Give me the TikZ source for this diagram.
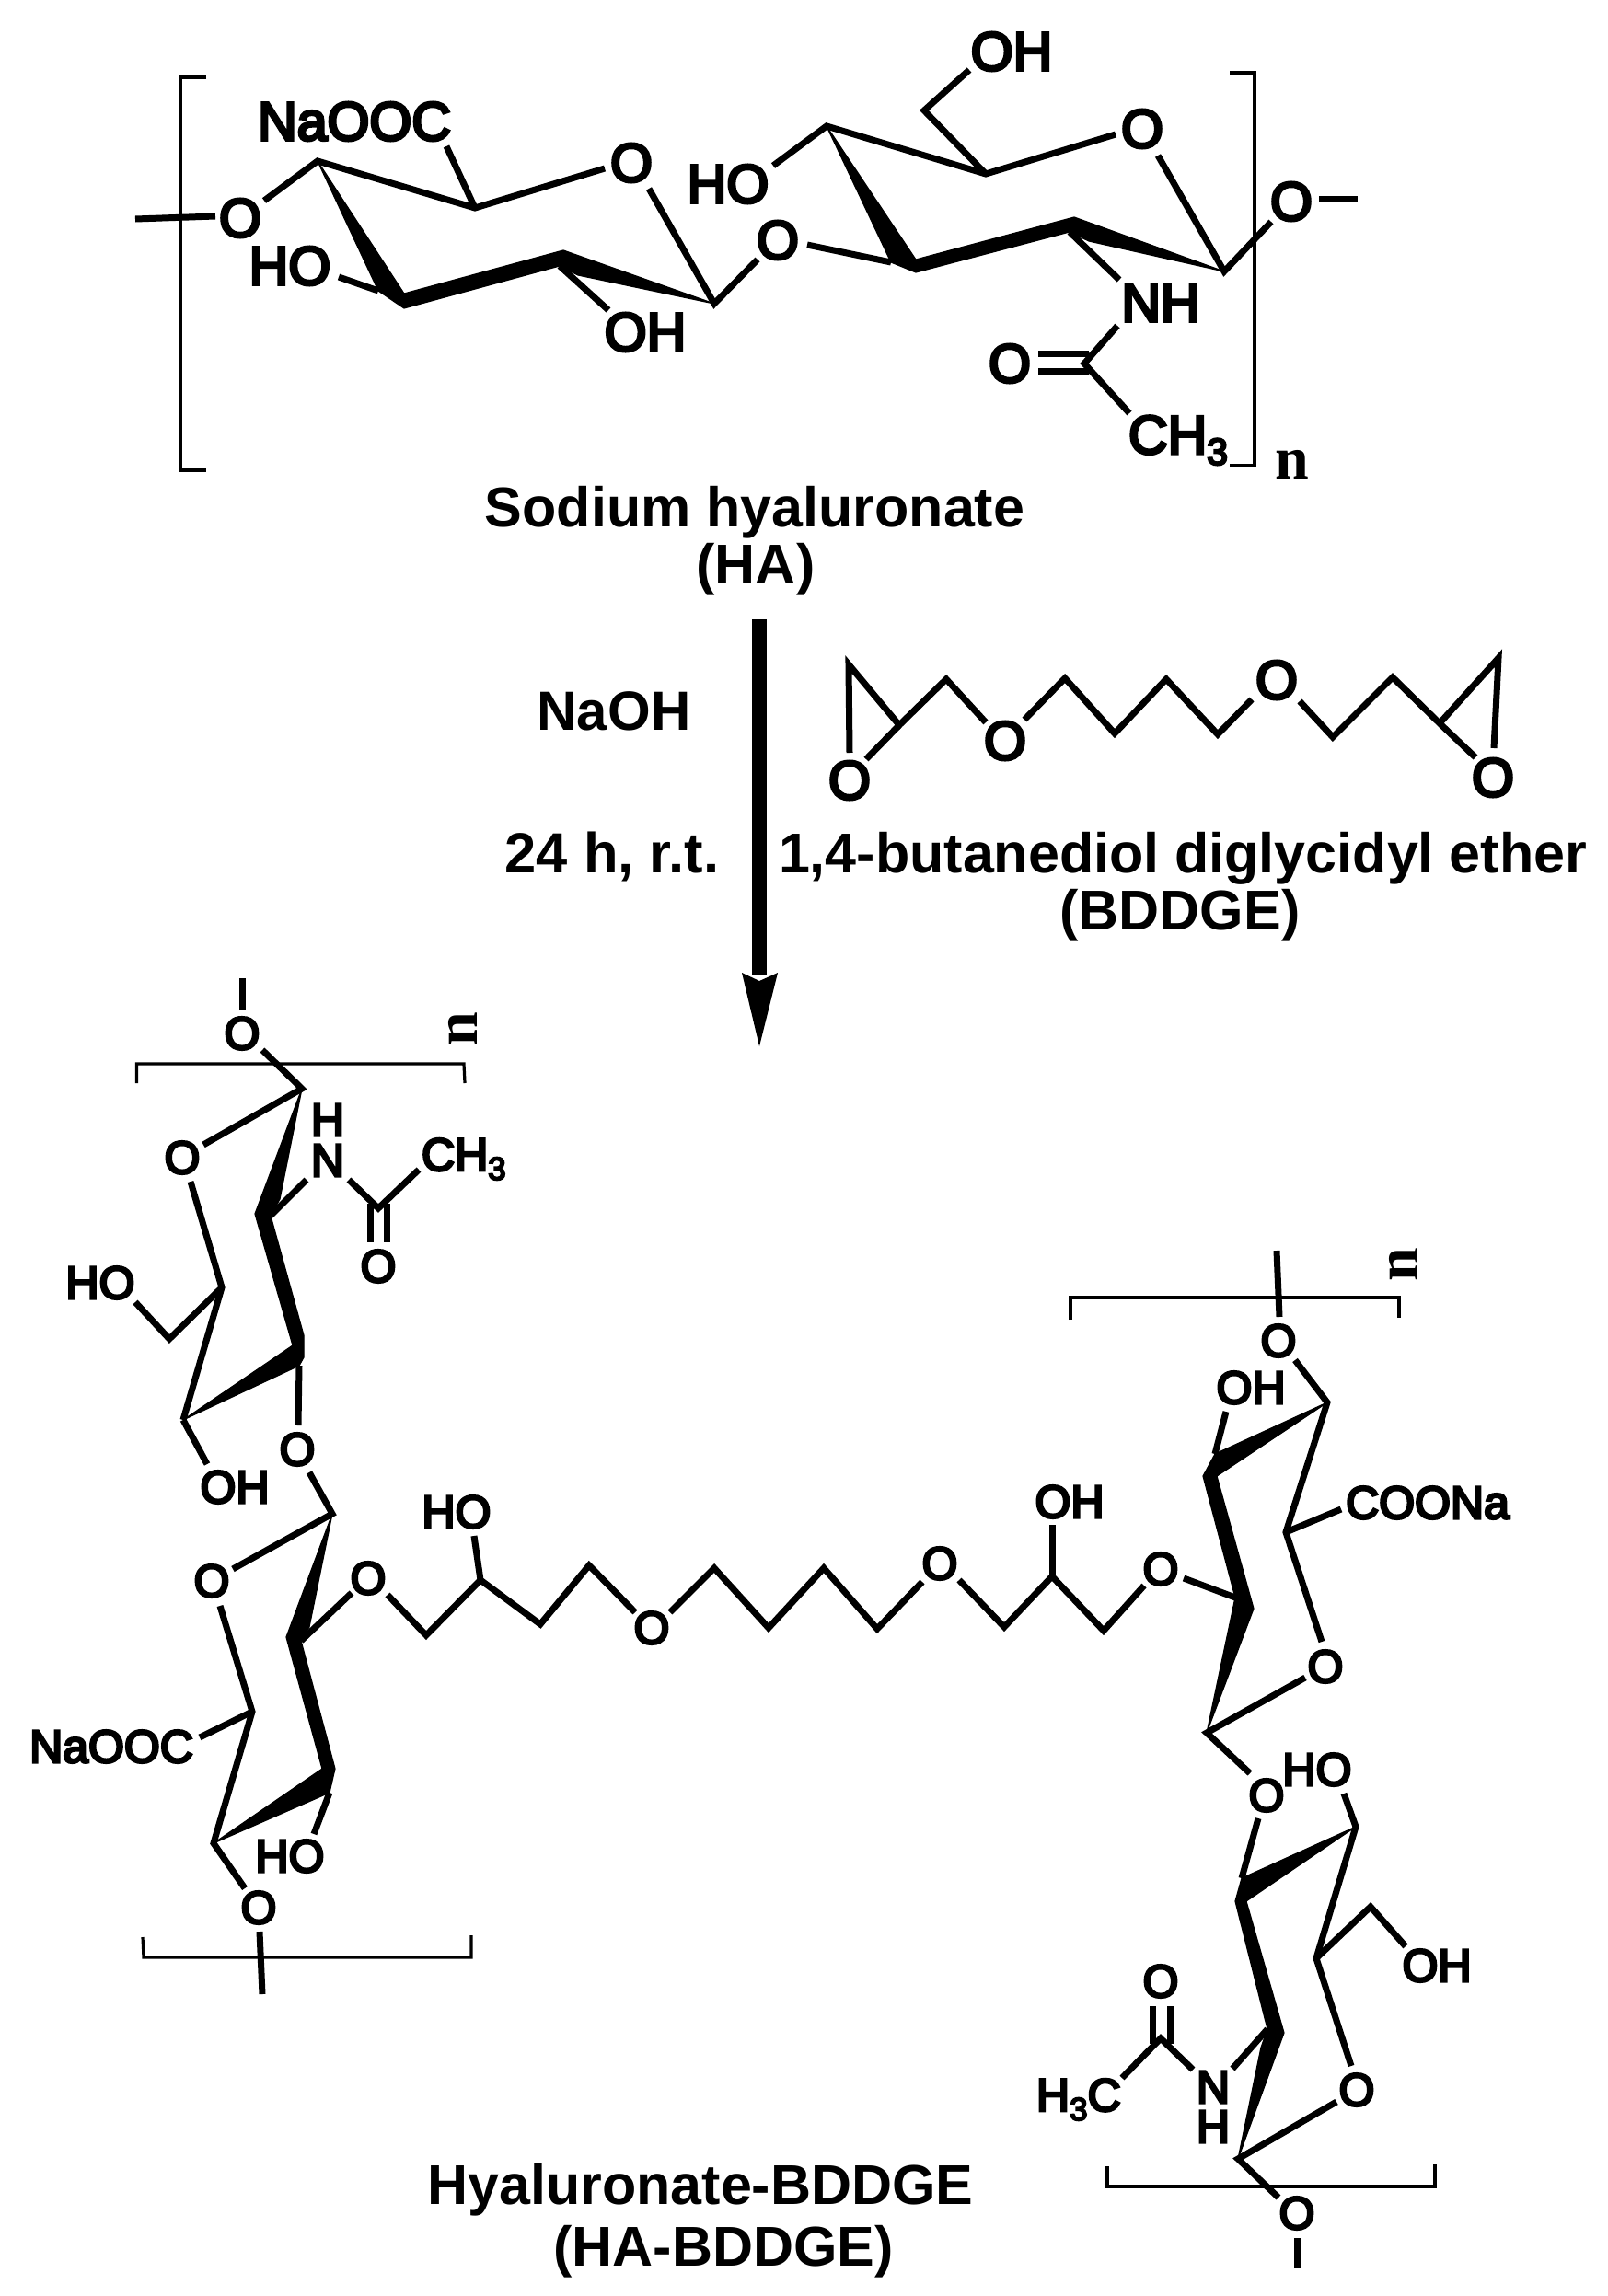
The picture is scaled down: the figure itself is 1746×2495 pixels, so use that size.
\documentclass[tikz,border=0pt]{standalone}
\usepackage{fontspec}
\setmainfont{Liberation Sans}
\newfontfamily\atomface{Liberation Sans}[FakeBold=5.5]
\newfontfamily\nface{Liberation Serif}[BoldFont={Liberation Serif Bold}]
\newcommand{\bigatom}{\atomface\fontsize{59}{59}\selectfont}
\newcommand{\smallatom}{\atomface\fontsize{50}{50}\selectfont}
\newcommand{\subbig}{\raisebox{-12pt}{\fontsize{41}{41}\selectfont 3}}
\newcommand{\subsmall}{\raisebox{-10pt}{\fontsize{35}{35}\selectfont 3}}
\tikzset{
  bond/.style={draw=black,line width=7pt,line cap=butt,line join=miter,miter limit=10},
  brack/.style={draw=black,line width=3.2pt,line join=miter},
  wedgebond/.style={fill=black,draw=black,line width=1.2pt,line join=miter},
  bigl/.style={inner sep=0pt,outer sep=0pt,font=\bigatom},
  smalll/.style={inner sep=0pt,outer sep=0pt,font=\smallatom},
  caption/.style={inner sep=0pt,outer sep=0pt,anchor=base,font=\bfseries\fontsize{61}{61}\selectfont},
  repeatn/.style={inner sep=0pt,outer sep=0pt,font=\nface\bfseries\fontsize{66}{66}\selectfont}
}
\begin{document}
\begin{tikzpicture}[x=1pt,y=-1pt]
\useasboundingbox (0,0) rectangle (1746,2495);
\fill[white] (0,0) rectangle (1746,2495);

% ===== Sodium hyaluronate =====
\coordinate (tTailL) at (147,238); \coordinate (tTailLe) at (234,235);
\coordinate (tA) at (345,175); \coordinate (tAo) at (287,218);
\coordinate (tB) at (516,226); \coordinate (tBc) at (485,159); \coordinate (tBo) at (657,183);
\coordinate (tOe) at (705,205); \coordinate (tC) at (776,330);
\coordinate (tD) at (411,316); \coordinate (tDh) at (368,301);
\coordinate (tE) at (608,289); \coordinate (tEh) at (661,337);
\coordinate (tCo) at (823,282); \coordinate (tGo) at (877,266); \coordinate (tF) at (968,285);
\coordinate (tHOe) at (840,180); \coordinate (tG) at (898,137);
\coordinate (tH) at (1071,189); \coordinate (tCH) at (1004,120); \coordinate (tCHo) at (1053,76);
\coordinate (tHo) at (1212,146); \coordinate (tRo) at (1258,169); \coordinate (tJ) at (1330,295);
\coordinate (tK) at (1162,252); \coordinate (tKn) at (1216,304);
\coordinate (tNe) at (1214,354); \coordinate (tAc) at (1178,395); \coordinate (tMe) at (1227,449);
\coordinate (tDb1a) at (1128,384); \coordinate (tDb1b) at (1183,384);
\coordinate (tDb2a) at (1128,403); \coordinate (tDb2b) at (1183,403);
\coordinate (tJo) at (1381,241); \coordinate (tTailR) at (1433,216); \coordinate (tTailRe) at (1475,216);

\draw[brack] (224,84) -- (196,84) -- (196,511) -- (224,511);
\draw[brack] (1336,79) -- (1363,79) -- (1363,506) -- (1336,506);
\draw[bond] (tTailL) -- (tTailLe);
\draw[bond] (tAo) -- (tA) -- (tB) -- (tBo);
\draw[bond] (tBc) -- (tB);
\draw[bond] (tOe) -- (tC) -- (tCo);
\draw[bond] (tDh) -- (tD);
\draw[bond] (tE) -- (tEh);
\draw[bond] (tGo) -- (tF);
\draw[bond] (tHOe) -- (tG) -- (tH) -- (tHo);
\draw[bond] (tCHo) -- (tCH) -- (tH);
\draw[bond] (tRo) -- (tJ) -- (tJo);
\draw[bond] (tK) -- (tKn);
\draw[bond] (tNe) -- (tAc) -- (tMe);
\draw[bond] (tDb1a) -- (tDb1b);
\draw[bond] (tDb2a) -- (tDb2b);
\draw[bond] (tTailR) -- (tTailRe);
\fill[wedgebond] (tA) -- (439,319) -- (612,272) -- (tC) -- (628,299) -- (tE) -- (439,335) -- (tD) -- cycle;
\fill[wedgebond] (tG) -- (995,282) -- (1167,236) -- (tJ) -- (1183,262) -- (tK) -- (995,296) -- (tF) -- cycle;

\node[bigl] (tO1) at (261,237) {O};
\node[bigl] (tNaOOC) at (385,132) {NaOOC};
\node[bigl] (tHO1) at (315,289) {HO};
\node[bigl] (tOH1) at (701,361) {OH};
\node[bigl] (tOr1) at (686,177) {O};
\node[bigl] (tHO2) at (791,200) {HO};
\node[bigl] (tO2) at (845,261) {O};
\node[bigl] (tOH2) at (1099,56) {OH};
\node[bigl] (tOr2) at (1241,140) {O};
\node[bigl] (tNH) at (1261,329) {NH};
\node[bigl] (tOc) at (1097,395) {O};
\node[bigl,anchor=base west] (tCH3) at (1226,493) {CH\subbig};
\node[bigl] (tO3) at (1403,219) {O};
\node[repeatn] (tn) at (1404,505) {n};

\node[caption] (capHA) at (820,572) {Sodium hyaluronate};
\node[caption] (capHAb) at (821,634) {(HA)};

% ===== Arrow =====
\coordinate (arrTop) at (825,673); \coordinate (arrBase) at (825,1060); \coordinate (arrTip) at (825,1137);
\draw[line width=15.5pt,draw=black] (arrTop) -- (arrBase);
\fill[black] (arrTip) -- (806,1057) -- (825,1066) -- (845,1057) -- cycle;
\node[caption,font=\bfseries\fontsize{60}{60}\selectfont] (naoh) at (667,793) {NaOH};
\node[caption,font=\bfseries\fontsize{61.5}{61.5}\selectfont] (cond) at (665,948) {24 h, r.t.};

% ===== BDDGE =====
\coordinate (bE1) at (922,722); \coordinate (bE1o) at (923,818); \coordinate (bJ1) at (977,788); \coordinate (bJ1o) at (941,825);
\coordinate (b1) at (1028,738); \coordinate (b1e) at (1071,785); \coordinate (b2s) at (1113,782);
\coordinate (b2) at (1157,737); \coordinate (b3) at (1211,797); \coordinate (b4) at (1267,738);
\coordinate (b5) at (1323,798); \coordinate (b5e) at (1360,760); \coordinate (b6s) at (1412,762);
\coordinate (b6) at (1448,801); \coordinate (b7) at (1513,736); \coordinate (bJ2) at (1564,786);
\coordinate (bJ2o) at (1603,823); \coordinate (bE2) at (1628,715); \coordinate (bE2o) at (1623,813);
\draw[bond] (bE1o) -- (bE1) -- (bJ1) -- (b1) -- (b1e);
\draw[bond] (bJ1o) -- (bJ1);
\draw[bond] (b2s) -- (b2) -- (b3) -- (b4) -- (b5) -- (b5e);
\draw[bond] (b6s) -- (b6) -- (b7) -- (bJ2) -- (bJ2o);
\draw[bond] (bJ2) -- (bE2) -- (bE2o);
\node[bigl] (bO1) at (923,848) {O};
\node[bigl] (bO2) at (1092,805) {O};
\node[bigl] (bO3) at (1387,739) {O};
\node[bigl] (bO4) at (1622,845) {O};
\node[caption] (capB) at (1285,948) {1,4-butanediol diglycidyl ether};
\node[caption] (capBb) at (1282,1010) {(BDDGE)};

% ===== Lower left: first ring =====
\coordinate (pTop) at (263,1063); \coordinate (pTope) at (263,1098);
\coordinate (pOe) at (285,1141); \coordinate (p1) at (328,1183); \coordinate (p1o) at (221,1244);
\coordinate (pRo) at (207,1284); \coordinate (p2) at (241,1399); \coordinate (pCH) at (184,1455); \coordinate (pCHo) at (147,1415);
\coordinate (p3) at (294,1321); \coordinate (pNe) at (333,1282);
\coordinate (pNr) at (379,1282); \coordinate (pAc) at (411,1313); \coordinate (pMe) at (455,1271);
\coordinate (pDb1a) at (402,1308); \coordinate (pDb1b) at (402,1350);
\coordinate (pDb2a) at (420,1308); \coordinate (pDb2b) at (420,1350);
\coordinate (p4) at (325,1484); \coordinate (p4o) at (324,1549);
\coordinate (p5) at (199,1543); \coordinate (p5h) at (225,1591);
\coordinate (pOs) at (336,1600); \coordinate (q1) at (361,1645); \coordinate (q1o) at (253,1705);
\draw[brack] (148.5,1177) -- (148.5,1156) -- (504,1156) -- (505,1177);
\draw[bond] (pTop) -- (pTope);
\draw[bond] (pOe) -- (p1) -- (p1o);
\draw[bond] (pRo) -- (p2) -- (p5);
\draw[bond] (p2) -- (pCH) -- (pCHo);
\draw[bond] (p3) -- (pNe);
\draw[bond] (pNr) -- (pAc) -- (pMe);
\draw[bond] (pDb1a) -- (pDb1b);
\draw[bond] (pDb2a) -- (pDb2b);
\draw[bond] (p4) -- (p4o);
\draw[bond] (p5) -- (p5h);
\draw[bond] (pOs) -- (q1) -- (q1o);
\fill[wedgebond] (p1) -- (304,1303) -- (p3) -- (330,1451) -- (330,1475) -- (p4) -- (p5) -- (318,1462) -- (277,1319) -- cycle;

\node[smalll] (pO0) at (263,1123) {O};
\node[repeatn,rotate=90] (pn) at (503,1118) {n};
\node[smalll] (pOr) at (198,1258) {O};
\node[smalll] (pH) at (356,1217) {H};
\node[smalll] (pN) at (356,1261) {N};
\node[smalll,anchor=base west] (pCH3) at (458,1272) {CH\subsmall};
\node[smalll] (pOc) at (411,1376) {O};
\node[smalll] (pHO) at (109,1394) {HO};
\node[smalll] (pOH) at (255,1616) {OH};
\node[smalll] (pOg) at (323,1575) {O};

% second ring
\coordinate (qRo) at (239,1745); \coordinate (q2) at (274,1860); \coordinate (q2c) at (217,1888);
\coordinate (q3) at (327,1783); \coordinate (q4) at (358,1948); \coordinate (q4h) at (341,1993);
\coordinate (q5) at (232,2003); \coordinate (q5o) at (266,2052);
\coordinate (qBot) at (282,2099); \coordinate (qBote) at (285,2167);
\draw[brack] (155,2105) -- (156,2127) -- (512,2127) -- (512,2103);
\draw[bond] (qRo) -- (q2) -- (q5) -- (q5o);
\draw[bond] (q2c) -- (q2);
\draw[bond] (q4) -- (q4h);
\draw[bond] (qBot) -- (qBote);
\fill[wedgebond] (q1) -- (336,1768) -- (q3) -- (364,1922) -- (q4) -- (q5) -- (350,1922) -- (311,1779) -- cycle;
\node[smalll] (qOr) at (230,1718) {O};
\node[smalll] (qNa) at (121,1898) {NaOOC};
\node[smalll] (qHO) at (315,2017) {HO};
\node[smalll] (qO) at (281,2073) {O};

% ===== Linker =====
\coordinate (l0) at (382,1731); \coordinate (l1s) at (421,1733); \coordinate (l1) at (463,1777);
\coordinate (l2) at (522,1717); \coordinate (l2h) at (515,1669); \coordinate (l3) at (587,1765);
\coordinate (l4) at (640,1701); \coordinate (l4e) at (690,1752); \coordinate (l5s) at (728,1752);
\coordinate (l5) at (776,1704); \coordinate (l6) at (835,1769); \coordinate (l7) at (895,1704);
\coordinate (l8) at (953,1770); \coordinate (l8e) at (1002,1719); \coordinate (l9s) at (1042,1717);
\coordinate (l9) at (1091,1768); \coordinate (l10) at (1143,1713); \coordinate (l10h) at (1143,1657);
\coordinate (l11) at (1199,1772); \coordinate (l11e) at (1243,1723);
\coordinate (r3o) at (1286,1715); \coordinate (r3) at (1342,1736);
\draw[bond] (q3) -- (l0);
\draw[bond] (l1s) -- (l1) -- (l2) -- (l3) -- (l4) -- (l4e);
\draw[bond] (l2) -- (l2h);
\draw[bond] (l5s) -- (l5) -- (l6) -- (l7) -- (l8) -- (l8e);
\draw[bond] (l9s) -- (l9) -- (l10) -- (l11) -- (l11e);
\draw[bond] (l10) -- (l10h);
\draw[bond] (r3o) -- (r3);
\node[smalll] (lO1) at (400,1715) {O};
\node[smalll] (lHO) at (496,1643) {HO};
\node[smalll] (lO2) at (708,1769) {O};
\node[smalll] (lO3) at (1021,1699) {O};
\node[smalll] (lOH) at (1162,1632) {OH};
\node[smalll] (lO4) at (1261,1705) {O};

% ===== Lower right: first ring =====
\coordinate (rTop) at (1387,1359); \coordinate (rTope) at (1390,1431);
\coordinate (rOe) at (1407,1478); \coordinate (r1) at (1442,1524); \coordinate (r2) at (1320,1580); \coordinate (r2h) at (1332,1534);
\coordinate (r5) at (1397,1665); \coordinate (r5c) at (1457,1640); \coordinate (r5o) at (1436,1784);
\coordinate (rOx) at (1418,1823); \coordinate (r4) at (1311,1883); \coordinate (r4o) at (1358,1927);
\draw[brack] (1163,1434) -- (1163,1410) -- (1520,1410) -- (1520,1432);
\draw[bond] (rTop) -- (rTope);
\draw[bond] (rOe) -- (r1) -- (r5) -- (r5o);
\draw[bond] (r5c) -- (r5);
\draw[bond] (r2h) -- (r2);
\draw[bond] (rOx) -- (r4) -- (r4o);
\fill[wedgebond] (r1) -- (1322,1604) -- (1362,1748) -- (r4) -- (r3) -- (1307,1604) -- (r2) -- cycle;
\node[smalll] (rO0) at (1389,1457) {O};
\node[repeatn,rotate=90] (rn) at (1525,1374) {n};
\node[smalll] (rOH) at (1359,1508) {OH};
\node[smalll] (rCOONa) at (1551,1633) {COONa};
\node[smalll] (rOr) at (1440,1811) {O};

% second ring
\coordinate (sOe) at (1367,1976); \coordinate (s2) at (1349,2041); \coordinate (s1) at (1473,1985); \coordinate (s1h) at (1460,1949);
\coordinate (s3) at (1377,2205); \coordinate (s3n) at (1339,2248);
\coordinate (s5) at (1430,2128); \coordinate (sC) at (1489,2072); \coordinate (sCo) at (1527,2115);
\coordinate (s5o) at (1468,2245); \coordinate (sRo) at (1452,2284); \coordinate (s4) at (1345,2346);
\coordinate (sNr) at (1296,2249); \coordinate (sAc) at (1261,2215); \coordinate (sMe) at (1219,2258);
\coordinate (sDb1a) at (1252,2221); \coordinate (sDb1b) at (1252,2180);
\coordinate (sDb2a) at (1271,2221); \coordinate (sDb2b) at (1271,2180);
\coordinate (s4o) at (1389,2388); \coordinate (sBot) at (1409,2432); \coordinate (sBote) at (1409,2465);
\draw[brack] (1203,2354) -- (1203,2376) -- (1559,2376) -- (1559,2352);
\draw[bond] (sOe) -- (s2);
\draw[bond] (s1h) -- (s1) -- (s5) -- (s5o);
\draw[bond] (s5) -- (sC) -- (sCo);
\draw[bond] (s3) -- (s3n);
\draw[bond] (sNr) -- (sAc) -- (sMe);
\draw[bond] (sDb1a) -- (sDb1b);
\draw[bond] (sDb2a) -- (sDb2b);
\draw[bond] (sRo) -- (s4) -- (s4o);
\draw[bond] (sBot) -- (sBote);
\fill[wedgebond] (s1) -- (1354,2066) -- (1395,2209) -- (s4) -- (1370,2225) -- (s3) -- (1342,2066) -- (s2) -- cycle;
\node[smalll] (sO) at (1376,1951) {O};
\node[smalll] (sHO) at (1431,1923) {HO};
\node[smalll] (sOH) at (1561,2136) {OH};
\node[smalll] (sOc) at (1261,2153) {O};
\node[smalll] (sN) at (1318,2268) {N};
\node[smalll] (sH) at (1318,2311) {H};
\node[smalll,anchor=base west] (sH3C) at (1126,2294) {H\subsmall C};
\node[smalll] (sOr) at (1474,2271) {O};
\node[smalll] (sO2) at (1409,2405) {O};

\node[caption] (capX) at (761,2395) {Hyaluronate-BDDGE};
\node[caption] (capXb) at (786,2462) {(HA-BDDGE)};
\end{tikzpicture}
\end{document}
